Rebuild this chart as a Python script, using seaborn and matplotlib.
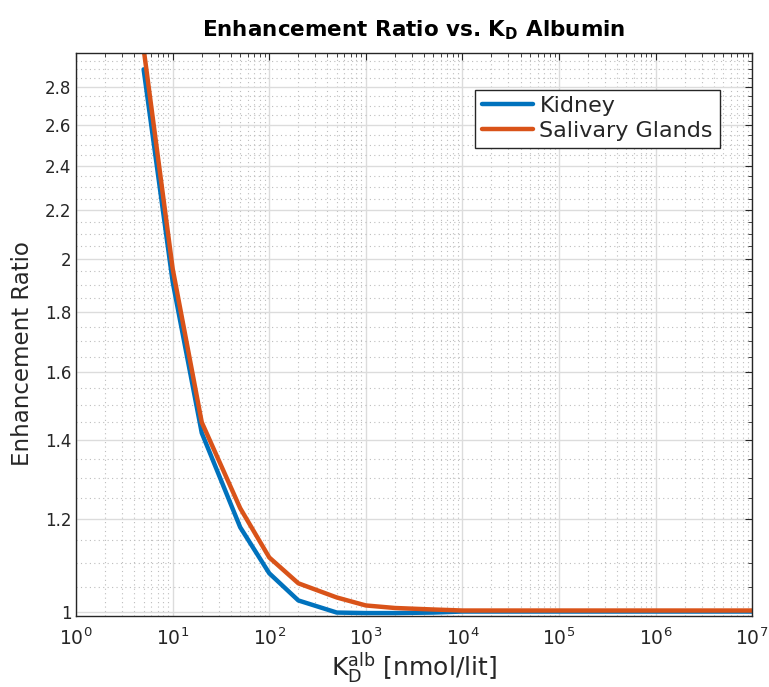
import numpy as np
import pandas as pd
import matplotlib
matplotlib.use('Agg')
import matplotlib.pyplot as plt
import seaborn as sns
from matplotlib.ticker import FixedLocator, MultipleLocator, NullFormatter, LogLocator

# %% 데이터
kd_values = [5, 10, 20, 50, 100, 200, 500, 1e3, 2e3, 5e3, 1e4, 1e5, 1e6, 1e7]
kidney_ratio = [2.90, 1.91, 1.42, 1.18, 1.078, 1.022, 0.998, 0.997, 0.997, 0.998, 1.0, 1.0, 1.0, 1.0]
salivary_ratio = [3.02, 1.96, 1.45, 1.225, 1.112, 1.057, 1.028, 1.012, 1.007, 1.004, 1.002, 1.002, 1.002, 1.002]
tissues = ['Kidney', 'Salivary Glands']
y_ticks = [1, 1.2, 1.4, 1.6, 1.8, 2, 2.2, 2.4, 2.6, 2.8]
y_tick_labels = ['1', '1.2', '1.4', '1.6', '1.8', '2', '2.2', '2.4', '2.6', '2.8']

df = pd.DataFrame({
    'kd': kd_values * 2,
    'ratio': kidney_ratio + salivary_ratio,
    'tissue': [tissues[0]] * len(kd_values) + [tissues[1]] * len(kd_values),
})

# %% 그리기
sns.set_style('white')
plt.rcParams['font.family'] = ['DejaVu Sans']
plt.rcParams['mathtext.fontset'] = 'dejavusans'

fig = plt.figure(figsize=(7.69, 6.87), dpi=100)
ax = fig.add_axes([0.099, 0.103, 0.879, 0.82])

palette = {'Kidney': '#0072BD', 'Salivary Glands': '#D95319'}
sns.lineplot(data=df, x='kd', y='ratio', hue='tissue', palette=palette,
             linewidth=3.2, sort=False, ax=ax, legend=True)

ax.set_xscale('log')
ax.set_yscale('log')
ax.set_xlim(1, 1e7)
ax.set_ylim(0.9908, 2.995)

ax.yaxis.set_major_locator(FixedLocator(y_ticks))
ax.set_yticklabels(y_tick_labels)
ax.yaxis.set_minor_locator(MultipleLocator(0.05))
ax.yaxis.set_minor_formatter(NullFormatter())
ax.xaxis.set_major_locator(LogLocator(base=10, numticks=10))
ax.xaxis.set_minor_locator(LogLocator(base=10, subs=np.arange(2, 10), numticks=100))
ax.xaxis.set_minor_formatter(NullFormatter())

# MATLAB 스타일 격자
ax.grid(which='major', color='#dcdcdc', linewidth=1.0, linestyle='-')
ax.grid(which='minor', color='#bdbdbd', linewidth=0.8, linestyle=(0, (1, 3)))
ax.set_axisbelow(True)

for s in ax.spines.values():
    s.set_color('#262626')
    s.set_linewidth(1.0)
ax.tick_params(which='both', direction='in', top=True, right=True, colors='#262626')
ax.tick_params(which='major', length=5, labelsize=12)
ax.tick_params(which='minor', length=3)
ax.tick_params(axis='x', which='major', labelsize=13.5, pad=8)

ax.set_title(r'Enhancement Ratio vs. $\mathbf{K_D}$ Albumin', fontsize=15.5,
             fontweight='bold', color='black', pad=12)
ax.set_xlabel(r'$\mathrm{K}_\mathrm{D}^\mathrm{alb}$ [nmol/lit]', fontsize=18, labelpad=1)
ax.set_ylabel('Enhancement Ratio', fontsize=16.5)
ax.yaxis.set_label_coords(-0.062, 0.467)

leg = ax.legend(loc='upper right', bbox_to_anchor=(0.952, 0.935), fontsize=16,
                frameon=True, fancybox=False, handlelength=2.3, borderpad=0.3,
                labelspacing=0.22, handletextpad=0.3, borderaxespad=0)
leg.get_frame().set_edgecolor('#262626')
leg.get_frame().set_linewidth(1.0)
leg.get_frame().set_alpha(1.0)

fig.savefig('out.png', dpi=100)
